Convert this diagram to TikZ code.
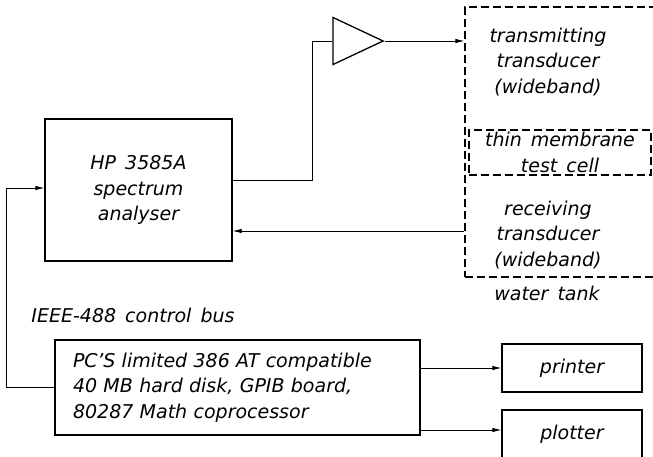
\documentclass[tikz,border=0pt]{standalone}
\usepackage{fontspec}
\setmainfont{DejaVu Sans}[WordSpace=1.5]
\usepackage{tikz}
\usetikzlibrary{positioning,
                calc,
                arrows.meta,
                shapes.geometric}

\begin{document}
\begin{tikzpicture}[x=1pt,y=-1pt]

%--------------------------------------------------
% STYLES
%--------------------------------------------------

\tikzset{
unitbox/.style={
draw=black,
line width=1.3pt,
inner sep=0pt
},
dashbox/.style={
draw=black,
line width=1.3pt,
dash pattern=on 8pt off 4pt,
inner sep=0pt
},
boxtext/.style={
font=\itshape\fontsize{19}{25.5}\selectfont,
align=center,
inner sep=0pt
},
wire/.style={
line width=0.8pt
},
wirearrow/.style={
line width=0.8pt,
-{Latex[length=9pt,width=4.5pt]}
}
}

\useasboundingbox (0,0) rectangle (653,457);
\clip (0,0) rectangle (653,457);

%--------------------------------------------------
% ANALYSER AND AMPLIFIER
%--------------------------------------------------

\node[unitbox,minimum width=187,minimum height=142,boxtext]
(hp) at (138.5,190)
{HP 3585A\\spectrum\\analyser};

\node[draw=black,line width=1.3pt,isosceles triangle,
isosceles triangle stretches,inner sep=0pt,
minimum width=47,minimum height=50]
(amp) at (348,41) {};

%--------------------------------------------------
% WATER TANK
%--------------------------------------------------

\node[dashbox,minimum width=225,minimum height=270]
(tank) at (577.5,142) {};

\node[boxtext] (tx) at (548,62)
{transmitting\\transducer\\(wideband)};

\node[dashbox,minimum width=182,minimum height=45,boxtext]
(cell) at (560,152.5)
{thin membrane\\test cell};

\node[boxtext] (rx) at (548,235)
{receiving\\transducer\\(wideband)};

\node[boxtext] (tanklabel) at (547,293)
{water tank};

%--------------------------------------------------
% COMPUTER AND OUTPUTS
%--------------------------------------------------

\node[boxtext] (bus) at (133,315)
{IEEE-488 control bus};

\node[unitbox,minimum width=365,minimum height=95,boxtext,
align=left,text width=329]
(pc) at (237.5,387.5)
{PC'S limited 386 AT compatible\\
40 MB hard disk, GPIB board,\\
80287 Math coprocessor};

\node[unitbox,minimum width=140,minimum height=48,boxtext]
(printer) at (572,368)
{printer};

\node[unitbox,minimum width=140,minimum height=48,boxtext]
(plotter) at (572,434)
{plotter};

%--------------------------------------------------
% CONNECTIONS
%--------------------------------------------------

\draw[wire] ([yshift=10pt]hp.east) -- ++(80,0) |- (amp.west);

\draw[wirearrow] (amp.east) -- (amp.east -| tank.west);

\coordinate (hpin) at ([yshift=-41pt]hp.east);
\draw[wirearrow] (hpin -| tank.west) -- (hpin);

\draw[wirearrow] (pc.west) -- ++(-48,0) |- ([yshift=2pt]hp.west);

\draw[wirearrow] (printer.west -| pc.east) -- (printer.west);
\draw[wirearrow] ([yshift=4pt]plotter.west -| pc.east) -- ([yshift=4pt]plotter.west);

\end{tikzpicture}
\end{document}
